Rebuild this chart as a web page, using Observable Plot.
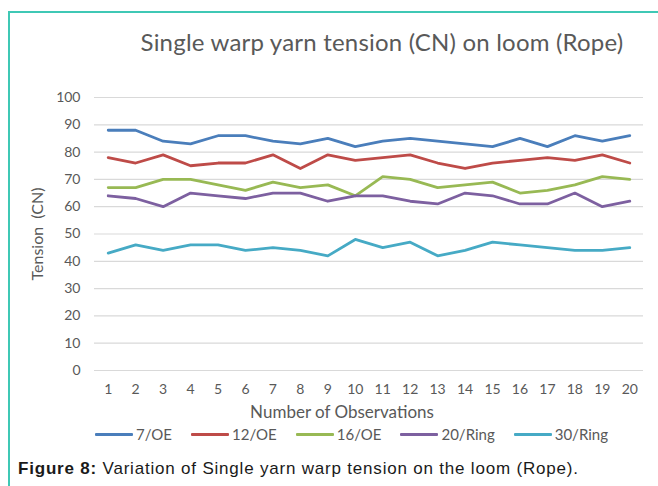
<!DOCTYPE html>
<html>
<head>
<meta charset="utf-8">
<script src="https://cdn.jsdelivr.net/npm/d3@7"></script>
<script src="https://cdn.jsdelivr.net/npm/@observablehq/plot@0.6"></script>
<style>
  html, body { margin: 0; padding: 0; background: #fff; }
  #wrap { position: relative; width: 658px; height: 486px; overflow: hidden; background: #fff; }
  #frame { position: absolute; left: 8px; top: 11px; width: 660px; height: 490px;
           border-left: 2px solid #3fc8b5; border-top: 2px solid #3fc8b5; }
  #chart { position: absolute; left: 0; top: 0; }
  .t { position: absolute; font-family: Lato, "Open Sans", sans-serif; color: #595959; white-space: nowrap; line-height: 1; }
  #title { left: 382px; top: 42px; transform: translate(-50%, -50%); font-size: 24px; letter-spacing: 0.2px; }
  #ytitle { left: 37px; top: 234px; transform: translate(-50%, -50%) rotate(-90deg); font-size: 16px; word-spacing: 4px; }
  #xtitle { left: 342px; top: 411px; transform: translate(-50%, -50%); font-size: 17px; }
  #legend { position: absolute; left: 95px; top: 425px; height: 18px; display: flex; align-items: center;
            font-family: Lato, "Open Sans", sans-serif; font-size: 15px; color: #595959; line-height: 18px; }
  #legend .item { display: flex; align-items: center; margin-right: 19px; }
  #legend .sw { width: 38px; height: 3px; margin-right: 3px; border-radius: 1px; }
  #caption { position: absolute; left: 18px; top: 459px; font-family: "Liberation Sans", Arial, sans-serif;
             font-size: 17px; letter-spacing: 0.8px; color: #1a1a1a; white-space: nowrap; }
</style>
</head>
<body>
<div id="wrap">
  <div id="frame"></div>
  <div id="chart"></div>
  <div class="t" id="title">Single warp yarn tension (CN) on loom (Rope)</div>
  <div class="t" id="ytitle">Tension (CN)</div>
  <div class="t" id="xtitle">Number of Observations</div>
  <div id="legend"></div>
  <div id="caption"><b>Figure 8:</b> Variation of Single yarn warp tension on the loom (Rope).</div>
</div>
<script>
const observations = d3.range(1, 21);
const seriesNames = ["7/OE", "12/OE", "16/OE", "20/Ring", "30/Ring"];
const seriesColors = ["#4a7ebb", "#be4b48", "#98b954", "#7d60a0", "#46aac5"];
const oe7    = [88, 88, 84, 83, 86, 86, 84, 83, 85, 82, 84, 85, 84, 83, 82, 85, 82, 86, 84, 86];
const oe12   = [78, 76, 79, 75, 76, 76, 79, 74, 79, 77, 78, 79, 76, 74, 76, 77, 78, 77, 79, 76];
const oe16   = [67, 67, 70, 70, 68, 66, 69, 67, 68, 64, 71, 70, 67, 68, 69, 65, 66, 68, 71, 70];
const ring20 = [64, 63, 60, 65, 64, 63, 65, 65, 62, 64, 64, 62, 61, 65, 64, 61, 61, 65, 60, 62];
const ring30 = [43, 46, 44, 46, 46, 44, 45, 44, 42, 48, 45, 47, 42, 44, 47, 46, 45, 44, 44, 45];
const yTicks = d3.range(0, 101, 10);

const seriesValues = [oe7, oe12, oe16, ring20, ring30];
const data = seriesNames.flatMap((name, i) =>
  observations.map((obs, j) => ({ series: name, obs, value: seriesValues[i][j] })));

const chart = Plot.plot({
  width: 658,
  height: 420,
  marginTop: 97,
  marginBottom: 50,
  marginLeft: 94,
  marginRight: 15,
  style: { fontFamily: "Lato, 'Open Sans', sans-serif", color: "#595959", background: "transparent" },
  x: { type: "linear", domain: [0.5, 20.5] },
  y: { domain: [0, 100] },
  color: { domain: seriesNames, range: seriesColors },
  marks: [
    Plot.ruleY(yTicks, { stroke: "#d9d9d9", strokeWidth: 1.2 }),
    Plot.axisY(yTicks, { tickSize: 0, tickPadding: 14, fontSize: 14, label: null }),
    Plot.axisX(observations, { tickSize: 0, tickPadding: 14, fontSize: 14, label: null, tickFormat: d => String(d) }),
    Plot.line(data, { x: "obs", y: "value", stroke: "series", z: "series", strokeWidth: 2.8, strokeLinejoin: "round", strokeLinecap: "round" })
  ]
});
document.getElementById("chart").appendChild(chart);

const legend = document.getElementById("legend");
seriesNames.forEach((name, i) => {
  const item = document.createElement("div");
  item.className = "item";
  const sw = document.createElement("div");
  sw.className = "sw";
  sw.style.background = seriesColors[i];
  const lab = document.createElement("span");
  lab.textContent = name;
  item.appendChild(sw);
  item.appendChild(lab);
  legend.appendChild(item);
});
</script>
</body>
</html>
